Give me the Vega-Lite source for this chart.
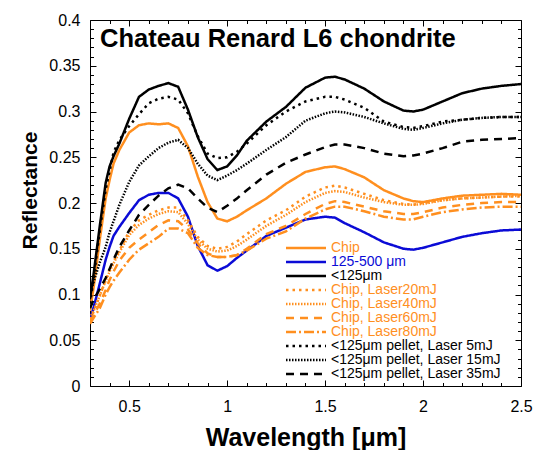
{
  "$schema": "https://vega.github.io/schema/vega-lite/v6.json",
  "width": 431,
  "height": 366,
  "autosize": "none",
  "padding": {"left": 90, "top": 20, "right": 15, "bottom": 64},
  "config": {
    "font": "Liberation Sans",
    "view": {"stroke": "black", "strokeWidth": 1},
    "axis": {"domain": false, "grid": false, "tickColor": "black", "tickWidth": 1, "labelColor": "black", "titleColor": "black"}
  },
  "title": {"text": "Chateau Renard L6 chondrite", "anchor": "start", "frame": "group", "fontSize": 25.5, "fontWeight": "bold", "color": "black", "baseline": "alphabetic", "offset": -27, "dx": 10, "dy": 33},
  "resolve": {"axis": {"x": "independent", "y": "independent"}},
  "data": {"values": [
    {"s":"Chip","w":0.30,"r":0.082},{"s":"Chip","w":0.32,"r":0.11},{"s":"Chip","w":0.35,"r":0.16},{"s":"Chip","w":0.38,"r":0.205},{"s":"Chip","w":0.40,"r":0.225},{"s":"Chip","w":0.42,"r":0.243},{"s":"Chip","w":0.45,"r":0.258},{"s":"Chip","w":0.50,"r":0.277},{"s":"Chip","w":0.55,"r":0.285},{"s":"Chip","w":0.60,"r":0.287},{"s":"Chip","w":0.65,"r":0.286},{"s":"Chip","w":0.70,"r":0.287},{"s":"Chip","w":0.75,"r":0.282},{"s":"Chip","w":0.80,"r":0.262},{"s":"Chip","w":0.85,"r":0.229},{"s":"Chip","w":0.90,"r":0.201},{"s":"Chip","w":0.95,"r":0.183},{"s":"Chip","w":1.00,"r":0.180},{"s":"Chip","w":1.05,"r":0.185},{"s":"Chip","w":1.10,"r":0.192},{"s":"Chip","w":1.20,"r":0.205},{"s":"Chip","w":1.30,"r":0.221},{"s":"Chip","w":1.40,"r":0.234},{"s":"Chip","w":1.50,"r":0.239},{"s":"Chip","w":1.55,"r":0.240},{"s":"Chip","w":1.60,"r":0.237},{"s":"Chip","w":1.70,"r":0.228},{"s":"Chip","w":1.80,"r":0.214},{"s":"Chip","w":1.90,"r":0.205},{"s":"Chip","w":1.95,"r":0.202},{"s":"Chip","w":2.00,"r":0.201},{"s":"Chip","w":2.10,"r":0.205},{"s":"Chip","w":2.20,"r":0.208},{"s":"Chip","w":2.30,"r":0.209},{"s":"Chip","w":2.40,"r":0.210},{"s":"Chip","w":2.50,"r":0.209},
    {"s":"125-500 μm","w":0.30,"r":0.072},{"s":"125-500 μm","w":0.32,"r":0.087},{"s":"125-500 μm","w":0.35,"r":0.112},{"s":"125-500 μm","w":0.38,"r":0.138},{"s":"125-500 μm","w":0.40,"r":0.152},{"s":"125-500 μm","w":0.42,"r":0.164},{"s":"125-500 μm","w":0.45,"r":0.174},{"s":"125-500 μm","w":0.50,"r":0.189},{"s":"125-500 μm","w":0.55,"r":0.203},{"s":"125-500 μm","w":0.60,"r":0.209},{"s":"125-500 μm","w":0.65,"r":0.211},{"s":"125-500 μm","w":0.70,"r":0.211},{"s":"125-500 μm","w":0.75,"r":0.205},{"s":"125-500 μm","w":0.80,"r":0.185},{"s":"125-500 μm","w":0.85,"r":0.153},{"s":"125-500 μm","w":0.90,"r":0.132},{"s":"125-500 μm","w":0.95,"r":0.126},{"s":"125-500 μm","w":1.00,"r":0.131},{"s":"125-500 μm","w":1.05,"r":0.140},{"s":"125-500 μm","w":1.10,"r":0.148},{"s":"125-500 μm","w":1.20,"r":0.164},{"s":"125-500 μm","w":1.30,"r":0.173},{"s":"125-500 μm","w":1.40,"r":0.182},{"s":"125-500 μm","w":1.50,"r":0.185},{"s":"125-500 μm","w":1.55,"r":0.184},{"s":"125-500 μm","w":1.60,"r":0.178},{"s":"125-500 μm","w":1.70,"r":0.168},{"s":"125-500 μm","w":1.80,"r":0.157},{"s":"125-500 μm","w":1.90,"r":0.150},{"s":"125-500 μm","w":1.95,"r":0.149},{"s":"125-500 μm","w":2.00,"r":0.151},{"s":"125-500 μm","w":2.10,"r":0.157},{"s":"125-500 μm","w":2.20,"r":0.163},{"s":"125-500 μm","w":2.30,"r":0.167},{"s":"125-500 μm","w":2.40,"r":0.170},{"s":"125-500 μm","w":2.50,"r":0.171},
    {"s":"<125μm","w":0.30,"r":0.095},{"s":"<125μm","w":0.32,"r":0.125},{"s":"<125μm","w":0.35,"r":0.175},{"s":"<125μm","w":0.38,"r":0.222},{"s":"<125μm","w":0.40,"r":0.240},{"s":"<125μm","w":0.42,"r":0.251},{"s":"<125μm","w":0.45,"r":0.265},{"s":"<125μm","w":0.50,"r":0.292},{"s":"<125μm","w":0.55,"r":0.316},{"s":"<125μm","w":0.60,"r":0.324},{"s":"<125μm","w":0.65,"r":0.328},{"s":"<125μm","w":0.70,"r":0.331},{"s":"<125μm","w":0.75,"r":0.327},{"s":"<125μm","w":0.80,"r":0.302},{"s":"<125μm","w":0.85,"r":0.272},{"s":"<125μm","w":0.90,"r":0.248},{"s":"<125μm","w":0.95,"r":0.236},{"s":"<125μm","w":1.00,"r":0.240},{"s":"<125μm","w":1.05,"r":0.252},{"s":"<125μm","w":1.10,"r":0.268},{"s":"<125μm","w":1.20,"r":0.289},{"s":"<125μm","w":1.30,"r":0.305},{"s":"<125μm","w":1.40,"r":0.326},{"s":"<125μm","w":1.50,"r":0.337},{"s":"<125μm","w":1.55,"r":0.338},{"s":"<125μm","w":1.60,"r":0.335},{"s":"<125μm","w":1.70,"r":0.325},{"s":"<125μm","w":1.80,"r":0.311},{"s":"<125μm","w":1.90,"r":0.301},{"s":"<125μm","w":1.95,"r":0.300},{"s":"<125μm","w":2.00,"r":0.302},{"s":"<125μm","w":2.10,"r":0.311},{"s":"<125μm","w":2.20,"r":0.320},{"s":"<125μm","w":2.30,"r":0.325},{"s":"<125μm","w":2.40,"r":0.328},{"s":"<125μm","w":2.50,"r":0.330},
    {"s":"Chip, Laser20mJ","w":0.30,"r":0.072},{"s":"Chip, Laser20mJ","w":0.32,"r":0.082},{"s":"Chip, Laser20mJ","w":0.35,"r":0.099},{"s":"Chip, Laser20mJ","w":0.38,"r":0.116},{"s":"Chip, Laser20mJ","w":0.40,"r":0.127},{"s":"Chip, Laser20mJ","w":0.42,"r":0.136},{"s":"Chip, Laser20mJ","w":0.45,"r":0.148},{"s":"Chip, Laser20mJ","w":0.50,"r":0.169},{"s":"Chip, Laser20mJ","w":0.55,"r":0.181},{"s":"Chip, Laser20mJ","w":0.60,"r":0.187},{"s":"Chip, Laser20mJ","w":0.65,"r":0.192},{"s":"Chip, Laser20mJ","w":0.70,"r":0.195},{"s":"Chip, Laser20mJ","w":0.75,"r":0.195},{"s":"Chip, Laser20mJ","w":0.80,"r":0.181},{"s":"Chip, Laser20mJ","w":0.85,"r":0.163},{"s":"Chip, Laser20mJ","w":0.90,"r":0.153},{"s":"Chip, Laser20mJ","w":0.95,"r":0.150},{"s":"Chip, Laser20mJ","w":1.00,"r":0.152},{"s":"Chip, Laser20mJ","w":1.05,"r":0.158},{"s":"Chip, Laser20mJ","w":1.10,"r":0.166},{"s":"Chip, Laser20mJ","w":1.20,"r":0.181},{"s":"Chip, Laser20mJ","w":1.30,"r":0.192},{"s":"Chip, Laser20mJ","w":1.40,"r":0.207},{"s":"Chip, Laser20mJ","w":1.50,"r":0.217},{"s":"Chip, Laser20mJ","w":1.55,"r":0.219},{"s":"Chip, Laser20mJ","w":1.60,"r":0.217},{"s":"Chip, Laser20mJ","w":1.70,"r":0.210},{"s":"Chip, Laser20mJ","w":1.80,"r":0.203},{"s":"Chip, Laser20mJ","w":1.90,"r":0.199},{"s":"Chip, Laser20mJ","w":1.95,"r":0.198},{"s":"Chip, Laser20mJ","w":2.00,"r":0.200},{"s":"Chip, Laser20mJ","w":2.10,"r":0.203},{"s":"Chip, Laser20mJ","w":2.20,"r":0.205},{"s":"Chip, Laser20mJ","w":2.30,"r":0.206},{"s":"Chip, Laser20mJ","w":2.40,"r":0.207},{"s":"Chip, Laser20mJ","w":2.50,"r":0.207},
    {"s":"Chip, Laser40mJ","w":0.30,"r":0.074},{"s":"Chip, Laser40mJ","w":0.32,"r":0.083},{"s":"Chip, Laser40mJ","w":0.35,"r":0.099},{"s":"Chip, Laser40mJ","w":0.38,"r":0.115},{"s":"Chip, Laser40mJ","w":0.40,"r":0.125},{"s":"Chip, Laser40mJ","w":0.42,"r":0.134},{"s":"Chip, Laser40mJ","w":0.45,"r":0.146},{"s":"Chip, Laser40mJ","w":0.50,"r":0.165},{"s":"Chip, Laser40mJ","w":0.55,"r":0.176},{"s":"Chip, Laser40mJ","w":0.60,"r":0.183},{"s":"Chip, Laser40mJ","w":0.65,"r":0.188},{"s":"Chip, Laser40mJ","w":0.70,"r":0.191},{"s":"Chip, Laser40mJ","w":0.75,"r":0.190},{"s":"Chip, Laser40mJ","w":0.80,"r":0.177},{"s":"Chip, Laser40mJ","w":0.85,"r":0.160},{"s":"Chip, Laser40mJ","w":0.90,"r":0.150},{"s":"Chip, Laser40mJ","w":0.95,"r":0.147},{"s":"Chip, Laser40mJ","w":1.00,"r":0.148},{"s":"Chip, Laser40mJ","w":1.05,"r":0.153},{"s":"Chip, Laser40mJ","w":1.10,"r":0.160},{"s":"Chip, Laser40mJ","w":1.20,"r":0.175},{"s":"Chip, Laser40mJ","w":1.30,"r":0.187},{"s":"Chip, Laser40mJ","w":1.40,"r":0.201},{"s":"Chip, Laser40mJ","w":1.50,"r":0.211},{"s":"Chip, Laser40mJ","w":1.55,"r":0.213},{"s":"Chip, Laser40mJ","w":1.60,"r":0.212},{"s":"Chip, Laser40mJ","w":1.70,"r":0.206},{"s":"Chip, Laser40mJ","w":1.80,"r":0.201},{"s":"Chip, Laser40mJ","w":1.90,"r":0.198},{"s":"Chip, Laser40mJ","w":1.95,"r":0.198},{"s":"Chip, Laser40mJ","w":2.00,"r":0.199},{"s":"Chip, Laser40mJ","w":2.10,"r":0.203},{"s":"Chip, Laser40mJ","w":2.20,"r":0.205},{"s":"Chip, Laser40mJ","w":2.30,"r":0.206},{"s":"Chip, Laser40mJ","w":2.40,"r":0.207},{"s":"Chip, Laser40mJ","w":2.50,"r":0.208},
    {"s":"Chip, Laser60mJ","w":0.30,"r":0.070},{"s":"Chip, Laser60mJ","w":0.32,"r":0.078},{"s":"Chip, Laser60mJ","w":0.35,"r":0.090},{"s":"Chip, Laser60mJ","w":0.38,"r":0.105},{"s":"Chip, Laser60mJ","w":0.40,"r":0.116},{"s":"Chip, Laser60mJ","w":0.42,"r":0.125},{"s":"Chip, Laser60mJ","w":0.45,"r":0.137},{"s":"Chip, Laser60mJ","w":0.50,"r":0.151},{"s":"Chip, Laser60mJ","w":0.55,"r":0.160},{"s":"Chip, Laser60mJ","w":0.60,"r":0.168},{"s":"Chip, Laser60mJ","w":0.65,"r":0.176},{"s":"Chip, Laser60mJ","w":0.70,"r":0.181},{"s":"Chip, Laser60mJ","w":0.75,"r":0.180},{"s":"Chip, Laser60mJ","w":0.80,"r":0.171},{"s":"Chip, Laser60mJ","w":0.85,"r":0.156},{"s":"Chip, Laser60mJ","w":0.90,"r":0.145},{"s":"Chip, Laser60mJ","w":0.95,"r":0.141},{"s":"Chip, Laser60mJ","w":1.00,"r":0.141},{"s":"Chip, Laser60mJ","w":1.05,"r":0.143},{"s":"Chip, Laser60mJ","w":1.10,"r":0.150},{"s":"Chip, Laser60mJ","w":1.20,"r":0.166},{"s":"Chip, Laser60mJ","w":1.30,"r":0.175},{"s":"Chip, Laser60mJ","w":1.40,"r":0.188},{"s":"Chip, Laser60mJ","w":1.50,"r":0.199},{"s":"Chip, Laser60mJ","w":1.55,"r":0.202},{"s":"Chip, Laser60mJ","w":1.60,"r":0.201},{"s":"Chip, Laser60mJ","w":1.70,"r":0.196},{"s":"Chip, Laser60mJ","w":1.80,"r":0.191},{"s":"Chip, Laser60mJ","w":1.90,"r":0.188},{"s":"Chip, Laser60mJ","w":1.95,"r":0.188},{"s":"Chip, Laser60mJ","w":2.00,"r":0.190},{"s":"Chip, Laser60mJ","w":2.10,"r":0.195},{"s":"Chip, Laser60mJ","w":2.20,"r":0.198},{"s":"Chip, Laser60mJ","w":2.30,"r":0.200},{"s":"Chip, Laser60mJ","w":2.40,"r":0.201},{"s":"Chip, Laser60mJ","w":2.50,"r":0.201},
    {"s":"Chip, Laser80mJ","w":0.30,"r":0.068},{"s":"Chip, Laser80mJ","w":0.32,"r":0.075},{"s":"Chip, Laser80mJ","w":0.35,"r":0.085},{"s":"Chip, Laser80mJ","w":0.38,"r":0.100},{"s":"Chip, Laser80mJ","w":0.40,"r":0.108},{"s":"Chip, Laser80mJ","w":0.42,"r":0.115},{"s":"Chip, Laser80mJ","w":0.45,"r":0.124},{"s":"Chip, Laser80mJ","w":0.50,"r":0.138},{"s":"Chip, Laser80mJ","w":0.55,"r":0.149},{"s":"Chip, Laser80mJ","w":0.60,"r":0.156},{"s":"Chip, Laser80mJ","w":0.65,"r":0.163},{"s":"Chip, Laser80mJ","w":0.70,"r":0.172},{"s":"Chip, Laser80mJ","w":0.75,"r":0.172},{"s":"Chip, Laser80mJ","w":0.80,"r":0.167},{"s":"Chip, Laser80mJ","w":0.85,"r":0.151},{"s":"Chip, Laser80mJ","w":0.90,"r":0.143},{"s":"Chip, Laser80mJ","w":0.95,"r":0.141},{"s":"Chip, Laser80mJ","w":1.00,"r":0.141},{"s":"Chip, Laser80mJ","w":1.05,"r":0.143},{"s":"Chip, Laser80mJ","w":1.10,"r":0.148},{"s":"Chip, Laser80mJ","w":1.20,"r":0.161},{"s":"Chip, Laser80mJ","w":1.30,"r":0.169},{"s":"Chip, Laser80mJ","w":1.40,"r":0.183},{"s":"Chip, Laser80mJ","w":1.50,"r":0.193},{"s":"Chip, Laser80mJ","w":1.55,"r":0.196},{"s":"Chip, Laser80mJ","w":1.60,"r":0.196},{"s":"Chip, Laser80mJ","w":1.70,"r":0.191},{"s":"Chip, Laser80mJ","w":1.80,"r":0.185},{"s":"Chip, Laser80mJ","w":1.90,"r":0.182},{"s":"Chip, Laser80mJ","w":1.95,"r":0.182},{"s":"Chip, Laser80mJ","w":2.00,"r":0.185},{"s":"Chip, Laser80mJ","w":2.10,"r":0.190},{"s":"Chip, Laser80mJ","w":2.20,"r":0.193},{"s":"Chip, Laser80mJ","w":2.30,"r":0.195},{"s":"Chip, Laser80mJ","w":2.40,"r":0.196},{"s":"Chip, Laser80mJ","w":2.50,"r":0.196},
    {"s":"<125μm pellet, Laser 5mJ","w":0.30,"r":0.090},{"s":"<125μm pellet, Laser 5mJ","w":0.32,"r":0.120},{"s":"<125μm pellet, Laser 5mJ","w":0.35,"r":0.170},{"s":"<125μm pellet, Laser 5mJ","w":0.38,"r":0.215},{"s":"<125μm pellet, Laser 5mJ","w":0.40,"r":0.235},{"s":"<125μm pellet, Laser 5mJ","w":0.42,"r":0.255},{"s":"<125μm pellet, Laser 5mJ","w":0.45,"r":0.269},{"s":"<125μm pellet, Laser 5mJ","w":0.50,"r":0.284},{"s":"<125μm pellet, Laser 5mJ","w":0.55,"r":0.297},{"s":"<125μm pellet, Laser 5mJ","w":0.60,"r":0.309},{"s":"<125μm pellet, Laser 5mJ","w":0.65,"r":0.314},{"s":"<125μm pellet, Laser 5mJ","w":0.70,"r":0.316},{"s":"<125μm pellet, Laser 5mJ","w":0.75,"r":0.313},{"s":"<125μm pellet, Laser 5mJ","w":0.80,"r":0.298},{"s":"<125μm pellet, Laser 5mJ","w":0.85,"r":0.273},{"s":"<125μm pellet, Laser 5mJ","w":0.90,"r":0.254},{"s":"<125μm pellet, Laser 5mJ","w":0.95,"r":0.249},{"s":"<125μm pellet, Laser 5mJ","w":1.00,"r":0.250},{"s":"<125μm pellet, Laser 5mJ","w":1.05,"r":0.256},{"s":"<125μm pellet, Laser 5mJ","w":1.10,"r":0.265},{"s":"<125μm pellet, Laser 5mJ","w":1.20,"r":0.285},{"s":"<125μm pellet, Laser 5mJ","w":1.30,"r":0.300},{"s":"<125μm pellet, Laser 5mJ","w":1.40,"r":0.311},{"s":"<125μm pellet, Laser 5mJ","w":1.50,"r":0.316},{"s":"<125μm pellet, Laser 5mJ","w":1.55,"r":0.316},{"s":"<125μm pellet, Laser 5mJ","w":1.60,"r":0.313},{"s":"<125μm pellet, Laser 5mJ","w":1.70,"r":0.304},{"s":"<125μm pellet, Laser 5mJ","w":1.80,"r":0.289},{"s":"<125μm pellet, Laser 5mJ","w":1.90,"r":0.283},{"s":"<125μm pellet, Laser 5mJ","w":1.95,"r":0.282},{"s":"<125μm pellet, Laser 5mJ","w":2.00,"r":0.284},{"s":"<125μm pellet, Laser 5mJ","w":2.10,"r":0.289},{"s":"<125μm pellet, Laser 5mJ","w":2.20,"r":0.291},{"s":"<125μm pellet, Laser 5mJ","w":2.30,"r":0.293},{"s":"<125μm pellet, Laser 5mJ","w":2.40,"r":0.294},{"s":"<125μm pellet, Laser 5mJ","w":2.50,"r":0.294},
    {"s":"<125μm pellet, Laser 15mJ","w":0.30,"r":0.100},{"s":"<125μm pellet, Laser 15mJ","w":0.32,"r":0.115},{"s":"<125μm pellet, Laser 15mJ","w":0.35,"r":0.135},{"s":"<125μm pellet, Laser 15mJ","w":0.38,"r":0.152},{"s":"<125μm pellet, Laser 15mJ","w":0.40,"r":0.168},{"s":"<125μm pellet, Laser 15mJ","w":0.42,"r":0.180},{"s":"<125μm pellet, Laser 15mJ","w":0.45,"r":0.198},{"s":"<125μm pellet, Laser 15mJ","w":0.50,"r":0.223},{"s":"<125μm pellet, Laser 15mJ","w":0.55,"r":0.241},{"s":"<125μm pellet, Laser 15mJ","w":0.60,"r":0.251},{"s":"<125μm pellet, Laser 15mJ","w":0.65,"r":0.260},{"s":"<125μm pellet, Laser 15mJ","w":0.70,"r":0.266},{"s":"<125μm pellet, Laser 15mJ","w":0.75,"r":0.269},{"s":"<125μm pellet, Laser 15mJ","w":0.80,"r":0.260},{"s":"<125μm pellet, Laser 15mJ","w":0.85,"r":0.243},{"s":"<125μm pellet, Laser 15mJ","w":0.90,"r":0.230},{"s":"<125μm pellet, Laser 15mJ","w":0.95,"r":0.225},{"s":"<125μm pellet, Laser 15mJ","w":1.00,"r":0.230},{"s":"<125μm pellet, Laser 15mJ","w":1.05,"r":0.236},{"s":"<125μm pellet, Laser 15mJ","w":1.10,"r":0.243},{"s":"<125μm pellet, Laser 15mJ","w":1.20,"r":0.258},{"s":"<125μm pellet, Laser 15mJ","w":1.30,"r":0.272},{"s":"<125μm pellet, Laser 15mJ","w":1.40,"r":0.290},{"s":"<125μm pellet, Laser 15mJ","w":1.50,"r":0.298},{"s":"<125μm pellet, Laser 15mJ","w":1.55,"r":0.300},{"s":"<125μm pellet, Laser 15mJ","w":1.60,"r":0.299},{"s":"<125μm pellet, Laser 15mJ","w":1.70,"r":0.294},{"s":"<125μm pellet, Laser 15mJ","w":1.80,"r":0.287},{"s":"<125μm pellet, Laser 15mJ","w":1.90,"r":0.281},{"s":"<125μm pellet, Laser 15mJ","w":1.95,"r":0.280},{"s":"<125μm pellet, Laser 15mJ","w":2.00,"r":0.282},{"s":"<125μm pellet, Laser 15mJ","w":2.10,"r":0.287},{"s":"<125μm pellet, Laser 15mJ","w":2.20,"r":0.291},{"s":"<125μm pellet, Laser 15mJ","w":2.30,"r":0.293},{"s":"<125μm pellet, Laser 15mJ","w":2.40,"r":0.294},{"s":"<125μm pellet, Laser 15mJ","w":2.50,"r":0.294},
    {"s":"<125μm pellet, Laser 35mJ","w":0.30,"r":0.085},{"s":"<125μm pellet, Laser 35mJ","w":0.32,"r":0.095},{"s":"<125μm pellet, Laser 35mJ","w":0.35,"r":0.106},{"s":"<125μm pellet, Laser 35mJ","w":0.38,"r":0.118},{"s":"<125μm pellet, Laser 35mJ","w":0.40,"r":0.128},{"s":"<125μm pellet, Laser 35mJ","w":0.42,"r":0.138},{"s":"<125μm pellet, Laser 35mJ","w":0.45,"r":0.152},{"s":"<125μm pellet, Laser 35mJ","w":0.50,"r":0.170},{"s":"<125μm pellet, Laser 35mJ","w":0.55,"r":0.187},{"s":"<125μm pellet, Laser 35mJ","w":0.60,"r":0.198},{"s":"<125μm pellet, Laser 35mJ","w":0.65,"r":0.208},{"s":"<125μm pellet, Laser 35mJ","w":0.70,"r":0.216},{"s":"<125μm pellet, Laser 35mJ","w":0.75,"r":0.220},{"s":"<125μm pellet, Laser 35mJ","w":0.80,"r":0.216},{"s":"<125μm pellet, Laser 35mJ","w":0.85,"r":0.205},{"s":"<125μm pellet, Laser 35mJ","w":0.90,"r":0.195},{"s":"<125μm pellet, Laser 35mJ","w":0.95,"r":0.190},{"s":"<125μm pellet, Laser 35mJ","w":1.00,"r":0.197},{"s":"<125μm pellet, Laser 35mJ","w":1.05,"r":0.205},{"s":"<125μm pellet, Laser 35mJ","w":1.10,"r":0.214},{"s":"<125μm pellet, Laser 35mJ","w":1.20,"r":0.231},{"s":"<125μm pellet, Laser 35mJ","w":1.30,"r":0.244},{"s":"<125μm pellet, Laser 35mJ","w":1.40,"r":0.253},{"s":"<125μm pellet, Laser 35mJ","w":1.50,"r":0.261},{"s":"<125μm pellet, Laser 35mJ","w":1.55,"r":0.264},{"s":"<125μm pellet, Laser 35mJ","w":1.60,"r":0.264},{"s":"<125μm pellet, Laser 35mJ","w":1.70,"r":0.260},{"s":"<125μm pellet, Laser 35mJ","w":1.80,"r":0.254},{"s":"<125μm pellet, Laser 35mJ","w":1.90,"r":0.251},{"s":"<125μm pellet, Laser 35mJ","w":1.95,"r":0.252},{"s":"<125μm pellet, Laser 35mJ","w":2.00,"r":0.254},{"s":"<125μm pellet, Laser 35mJ","w":2.10,"r":0.260},{"s":"<125μm pellet, Laser 35mJ","w":2.20,"r":0.267},{"s":"<125μm pellet, Laser 35mJ","w":2.30,"r":0.269},{"s":"<125μm pellet, Laser 35mJ","w":2.40,"r":0.270},{"s":"<125μm pellet, Laser 35mJ","w":2.50,"r":0.271}
  ]},
  "layer": [
    {
      "mark": {"type": "line", "strokeWidth": 2.5, "strokeCap": "butt", "clip": true},
      "encoding": {
        "x": {"field": "w", "type": "quantitative", "scale": {"domain": [0.3, 2.5], "nice": false, "zero": false},
              "axis": {"orient": "bottom", "values": [0.5, 1, 1.5, 2, 2.5], "format": "~g", "ticks": false, "labelFontSize": 16, "labelPadding": 12, "labelFlush": false,
                       "title": "Wavelength [μm]", "titleFontSize": 25, "titleFontWeight": "bold", "titlePadding": 11}},
        "y": {"field": "r", "type": "quantitative", "scale": {"domain": [0, 0.4], "nice": false, "zero": false},
              "axis": {"orient": "left", "values": [0, 0.05, 0.1, 0.15, 0.2, 0.25, 0.3, 0.35, 0.4], "format": "~g", "ticks": false, "labelFontSize": 16, "labelPadding": 10, "labelFlush": false,
                       "title": "Reflectance", "titleFontSize": 21, "titleFontWeight": "bold", "titlePadding": 8, "titleY": 170}},
        "color": {"field": "s", "type": "nominal",
                  "scale": {"domain": ["Chip", "125-500 μm", "<125μm", "Chip, Laser20mJ", "Chip, Laser40mJ", "Chip, Laser60mJ", "Chip, Laser80mJ", "<125μm pellet, Laser 5mJ", "<125μm pellet, Laser 15mJ", "<125μm pellet, Laser 35mJ"],
                            "range": ["#FF8F1F", "#0B0BD6", "#000000", "#FF8F1F", "#FF8F1F", "#FF8F1F", "#FF8F1F", "#000000", "#000000", "#000000"]},
                  "legend": {"title": null, "orient": "none", "legendX": 209, "legendY": 221, "padding": 0, "symbolOffset": 0, "labelOffset": 18, "rowPadding": 0,
                             "labelFontSize": 14, "labelLimit": 0, "symbolType": "M-4,0H4", "symbolSize": 100, "symbolStrokeWidth": 2.5,
                             "encode": {"labels": {"update": {"fill": {"scale": "color", "field": "value"}}}}}},
        "strokeDash": {"field": "s", "type": "nominal",
                       "scale": {"domain": ["Chip", "125-500 μm", "<125μm", "Chip, Laser20mJ", "Chip, Laser40mJ", "Chip, Laser60mJ", "Chip, Laser80mJ", "<125μm pellet, Laser 5mJ", "<125μm pellet, Laser 15mJ", "<125μm pellet, Laser 35mJ"],
                                 "range": [[1, 0], [1, 0], [1, 0], [2.5, 4], [1.5, 1.5], [8, 6], [10, 3, 2, 3], [2.5, 4], [1.5, 1.5], [8, 6]]},
                       "legend": {"title": null, "orient": "none", "legendX": 209, "legendY": 221, "padding": 0, "symbolOffset": 0, "labelOffset": 18, "rowPadding": 0,
                                  "labelFontSize": 14, "labelLimit": 0, "symbolType": "M-4,0H4", "symbolSize": 100, "symbolStrokeWidth": 2.5,
                                  "encode": {"labels": {"update": {"fill": {"scale": "color", "field": "value"}}}}}}
      }
    },
    {
      "mark": {"type": "point", "opacity": 0},
      "encoding": {
        "x": {"field": "w", "type": "quantitative", "axis": {"orient": "bottom", "values": [0.5, 1, 1.5, 2, 2.5], "labels": false, "tickSize": -6, "title": null}},
        "y": {"field": "r", "type": "quantitative", "axis": {"orient": "left", "values": [0, 0.05, 0.1, 0.15, 0.2, 0.25, 0.3, 0.35, 0.4], "labels": false, "tickSize": -6, "title": null}}
      }
    },
    {
      "mark": {"type": "point", "opacity": 0},
      "encoding": {
        "x": {"field": "w", "type": "quantitative", "axis": {"orient": "bottom", "values": [0.3, 0.4, 0.6, 0.7, 0.8, 0.9, 1.1, 1.2, 1.3, 1.4, 1.6, 1.7, 1.8, 1.9, 2.1, 2.2, 2.3, 2.4], "labels": false, "tickSize": -3.5, "title": null}},
        "y": {"field": "r", "type": "quantitative", "axis": {"orient": "left", "values": [0.01, 0.02, 0.03, 0.04, 0.06, 0.07, 0.08, 0.09, 0.11, 0.12, 0.13, 0.14, 0.16, 0.17, 0.18, 0.19, 0.21, 0.22, 0.23, 0.24, 0.26, 0.27, 0.28, 0.29, 0.31, 0.32, 0.33, 0.34, 0.36, 0.37, 0.38, 0.39], "labels": false, "tickSize": -3.5, "title": null}}
      }
    },
    {
      "mark": {"type": "point", "opacity": 0},
      "encoding": {
        "x": {"field": "w", "type": "quantitative", "axis": {"orient": "top", "values": [0.5, 1, 1.5, 2, 2.5], "labels": false, "tickSize": -6, "title": null}},
        "y": {"field": "r", "type": "quantitative", "axis": {"orient": "right", "values": [0, 0.05, 0.1, 0.15, 0.2, 0.25, 0.3, 0.35, 0.4], "labels": false, "tickSize": -6, "title": null}}
      }
    },
    {
      "mark": {"type": "point", "opacity": 0},
      "encoding": {
        "x": {"field": "w", "type": "quantitative", "axis": {"orient": "top", "values": [0.3, 0.4, 0.6, 0.7, 0.8, 0.9, 1.1, 1.2, 1.3, 1.4, 1.6, 1.7, 1.8, 1.9, 2.1, 2.2, 2.3, 2.4], "labels": false, "tickSize": -3.5, "title": null}},
        "y": {"field": "r", "type": "quantitative", "axis": {"orient": "right", "values": [0.01, 0.02, 0.03, 0.04, 0.06, 0.07, 0.08, 0.09, 0.11, 0.12, 0.13, 0.14, 0.16, 0.17, 0.18, 0.19, 0.21, 0.22, 0.23, 0.24, 0.26, 0.27, 0.28, 0.29, 0.31, 0.32, 0.33, 0.34, 0.36, 0.37, 0.38, 0.39], "labels": false, "tickSize": -3.5, "title": null}}
      }
    }
  ]
}
